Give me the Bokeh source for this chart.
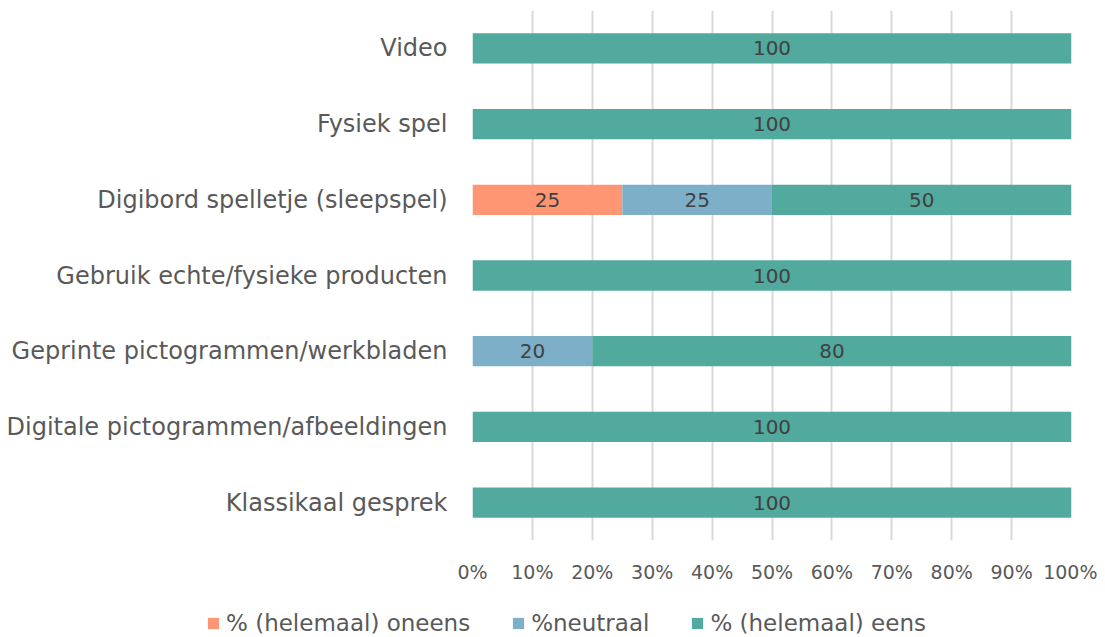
from bokeh.plotting import figure
from bokeh.models import ColumnDataSource, FactorRange, FixedTicker, Legend, LegendItem
from bokeh.layouts import column
from bokeh.embed import file_html
from bokeh.resources import INLINE
from bokeh.core.properties import value

categories = ["Klassikaal gesprek", "Digitale pictogrammen/afbeeldingen",
              "Geprinte pictogrammen/werkbladen", "Gebruik echte/fysieke producten",
              "Digibord spelletje (sleepspel)", "Fysiek spel", "Video"]
oneens = [0, 0, 0, 0, 25, 0, 0]
neutraal = [0, 0, 20, 0, 25, 0, 0]
eens = [100, 100, 80, 100, 50, 100, 100]
series_names = ["% (helemaal) oneens", "%neutraal", "% (helemaal) eens"]
tick_values = [0, 10, 20, 30, 40, 50, 60, 70, 80, 90, 100]
tick_labels = ["0%", "10%", "20%", "30%", "40%", "50%", "60%", "70%", "80%", "90%", "100%"]
colors = ["#FF9673", "#7DAFC9", "#52A99D"]

FONT = "DejaVu Sans"
TXT = "#595959"

src = ColumnDataSource(dict(cat=categories, oneens=oneens, neutraal=neutraal, eens=eens))

p = figure(y_range=FactorRange(*categories, range_padding=0), x_range=(0, 100),
           frame_width=599, frame_height=530,
           output_backend="svg", toolbar_location=None,
           min_border_left=472, min_border_right=26, min_border_top=10, min_border_bottom=50)
p.outline_line_color = None

rs = p.hbar_stack(["oneens", "neutraal", "eens"], y="cat", height=0.4, color=colors,
                  line_color=None, source=src)

# value labels
lx, ly, lt = [], [], []
for i, c in enumerate(categories):
    start = 0
    for vals in (oneens, neutraal, eens):
        v = vals[i]
        if v > 0:
            lx.append(start + v / 2)
            ly.append(c)
            lt.append(str(v))
        start += v
lsrc = ColumnDataSource(dict(x=lx, y=ly, t=lt))
p.text(x="x", y="y", text="t", source=lsrc, text_align="center", text_baseline="middle",
       text_font=value(FONT), text_font_size="20px", text_color="#404040")

p.xaxis.ticker = FixedTicker(ticks=tick_values)
p.xaxis.major_label_overrides = {v: l for v, l in zip(tick_values, tick_labels)}
for ax in (p.xaxis, p.yaxis):
    ax.axis_line_color = None
    ax.major_tick_line_color = None
    ax.minor_tick_line_color = None
    ax.major_label_text_font = FONT
    ax.major_label_text_color = TXT
p.xaxis.major_label_text_font_size = "19px"
p.xaxis.major_label_standoff = 14
p.yaxis.major_label_text_font_size = "24px"
p.yaxis.major_label_standoff = 19
p.ygrid.grid_line_color = None
p.xgrid.grid_line_color = "#D9D9D9"
p.xgrid.grid_line_width = 2

# legend in its own strip below the chart (dummy swatch renderers lie outside its view)
p2 = figure(x_range=(0, 1), y_range=(0, 1), frame_width=1097, frame_height=47,
            output_backend="svg", toolbar_location=None,
            min_border_left=0, min_border_right=0, min_border_top=0, min_border_bottom=0)
p2.outline_line_color = None
p2.axis.visible = False
p2.grid.visible = False
dummies = []
for c in colors:
    dummies.append(p2.quad(left=[5], right=[6], top=[6], bottom=[5], fill_color=c, line_color=None))
legend = Legend(items=[LegendItem(label=n, renderers=[r]) for n, r in zip(series_names, dummies)],
                orientation="horizontal", location=(206, 1),
                label_text_font=FONT, label_text_font_size="23px", label_text_color=TXT,
                glyph_width=14, glyph_height=14, spacing=41, label_standoff=6,
                border_line_color=None, background_fill_alpha=0, margin=0, padding=0)
p2.add_layout(legend, "center")

open("out.html", "w").write(file_html(column(p, p2, spacing=0), INLINE))
